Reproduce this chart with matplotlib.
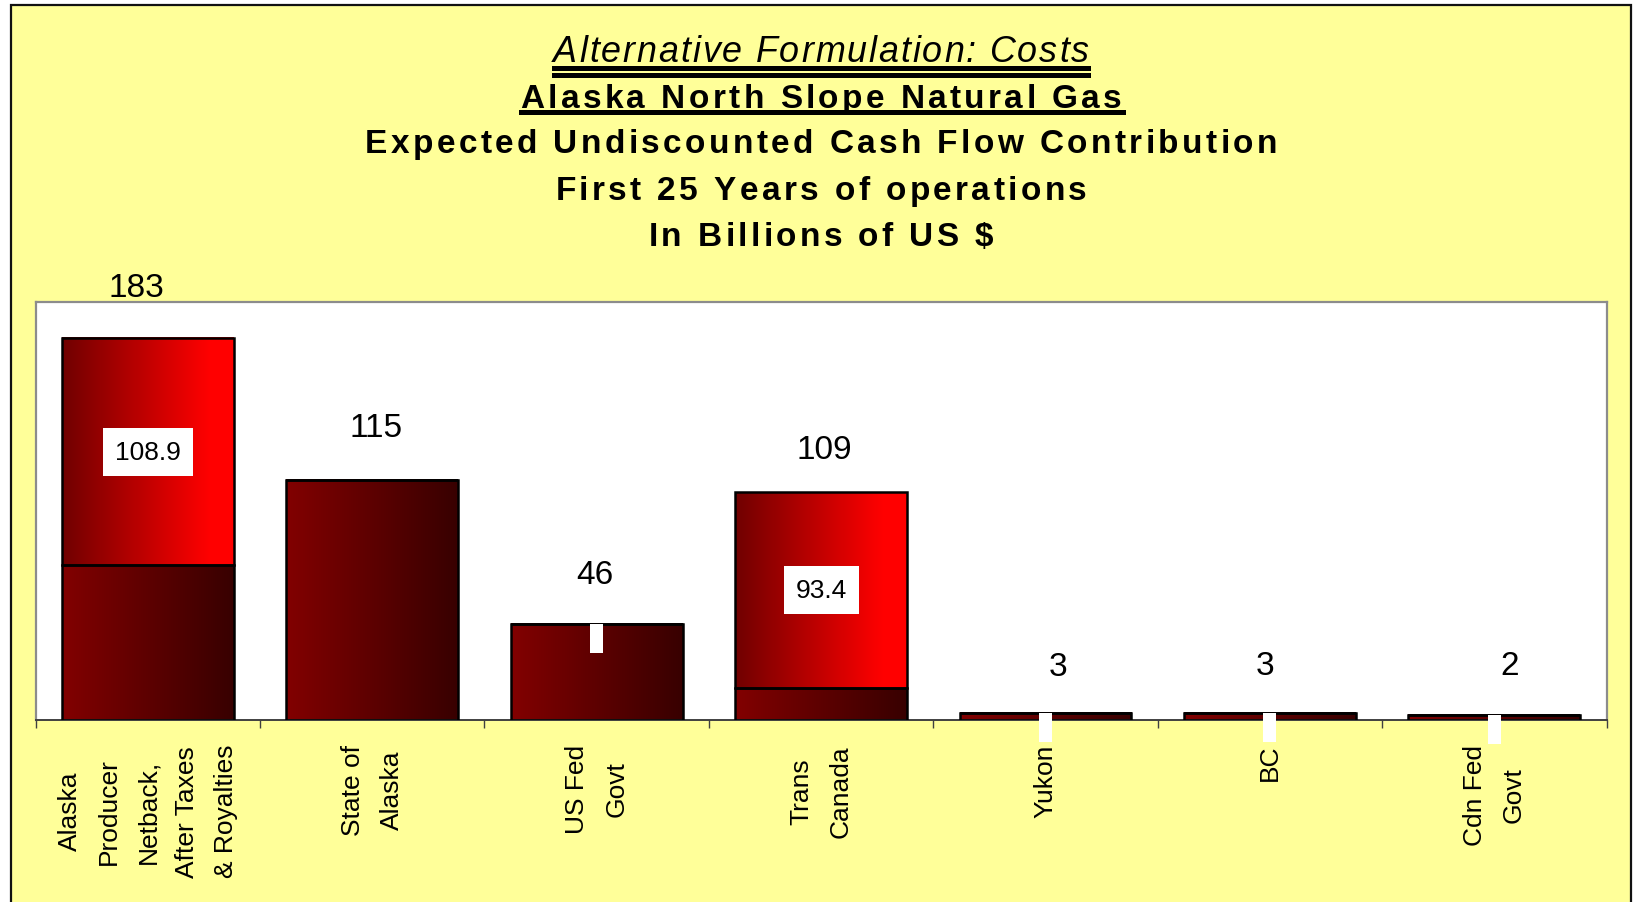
import numpy as np
import matplotlib
matplotlib.use('Agg')
import matplotlib.pyplot as plt
from matplotlib.patches import Rectangle
from matplotlib.colors import to_rgb
from matplotlib.font_manager import FontProperties, findfont
from matplotlib.ft2font import FT2Font

# data
categories = ['Alaska\nProducer\nNetback,\nAfter Taxes\n& Royalties', 'State of\nAlaska',
              'US Fed\nGovt', 'Trans\nCanada', 'Yukon', 'BC', 'Cdn Fed\nGovt']
totals = [183, 115, 46, 109, 3.4, 3.4, 2.4]
upper = [108.9, 0, 0, 93.4, 0, 0, 0]          # red top segment
lower = [t - u for t, u in zip(totals, upper)]  # dark bottom segment
empty_box = [False, False, True, False, True, True, True]  # stray blank label boxes

title_italic = 'Alternative Formulation: Costs'
title_bold = ['Alaska North Slope Natural Gas',
              'Expected Undiscounted Cash Flow Contribution',
              'First 25 Years of operations',
              'In Billions of US $']

# label nudges seen in the original (pixels)
label_dx = [-12, 4, -2, 3, 12, -5, 15]
label_dy = [50, 52, 50, 43, 47, 48, 50]

W, H, DPI = 1634, 903, 100
FONT = 'Liberation Sans'

fig = plt.figure(figsize=(W / DPI, H / DPI), dpi=DPI, facecolor='white')

# yellow chart area with border (cut off at bottom)
fig.add_artist(Rectangle((11 / W, -0.05), (1631 - 11) / W, 1.05 - 6 / H,
                         transform=fig.transFigure, facecolor='#FFFF99',
                         edgecolor='#111111', linewidth=1.6, zorder=0))


def tracked_text(s, xc, y_base, size, tracking, weight='bold', style='normal'):
    # draw text char by char with extra letter spacing, return left/right px
    fp = FontProperties(family=FONT, size=size, weight=weight, style=style)
    font = FT2Font(findfont(fp))
    font.set_size(size, DPI)
    adv = [font.load_char(ord(c)).linearHoriAdvance / 65536 for c in s]
    total = sum(adv) + tracking * (len(s) - 1)
    x = xc - total / 2
    for c, a in zip(s, adv):
        if c != ' ':
            fig.text(x / W, 1 - y_base / H, c, fontproperties=fp,
                     ha='left', va='baseline')
        x += a + tracking
    return xc - total / 2, xc + total / 2


def hbar(x0, x1, y0, y1):
    fig.add_artist(Rectangle((x0 / W, 1 - y1 / H), (x1 - x0) / W, (y1 - y0) / H,
                             transform=fig.transFigure, color='black', lw=0))


xc = 821
l, r = tracked_text(title_italic, xc, 62.3, 25.8, 1.9, weight='normal', style='italic')
hbar(l - 1, r + 2, 67.3, 71.7)
hbar(l - 1, r + 2, 74.3, 79.0)

baselines = [108.3, 153.3, 200.0, 246.0]
for i, (s, yb) in enumerate(zip(title_bold, baselines)):
    l, r = tracked_text(s, xc, yb, 24, 3.4)
    if i == 0:
        hbar(l - 1, r + 4, 111.0, 115.7)

# plot area
ax = fig.add_axes([35.7 / W, 1 - 721.3 / H, (1606.5 - 35.7) / W, (721.3 - 303.3) / H])
ax.set_facecolor('white')
for side in ['top', 'left', 'right']:
    ax.spines[side].set_color('#8C8C8C')
    ax.spines[side].set_linewidth(1.6)
ax.spines['bottom'].set_color('#404040')
ax.spines['bottom'].set_linewidth(1.4)


def gradient(c0, c1, stop=1.0, n=256):
    t = np.clip(np.linspace(0, 1, n) / stop, 0, 1)
    a, b = np.array(to_rgb(c0)), np.array(to_rgb(c1))
    return (a + (b - a) * t[:, None])[None, :, :]


dark = gradient('#820000', '#380000')
red = gradient('#700000', '#FF0000', stop=0.86)

bw = 0.765
x = np.arange(len(categories))
for i in x:
    x0, x1 = i - bw / 2, i + bw / 2
    ax.imshow(dark, extent=(x0, x1, 0, lower[i]), aspect='auto', zorder=2,
              interpolation='bilinear')
    if upper[i] > 0:
        ax.imshow(red, extent=(x0, x1, lower[i], totals[i]), aspect='auto', zorder=2,
                  interpolation='bilinear')

ax.bar(x, lower, bw, fill=False, edgecolor='black', linewidth=1.8, zorder=3)
ax.bar(x, upper, bw, bottom=lower, fill=False, edgecolor='black', linewidth=1.8, zorder=3)

ax.set_xlim(-0.5, len(categories) - 0.5)
ax.set_ylim(0, 200)
ax.set_yticks([])

# ticks between categories, labels at centres
ax.set_xticks(np.arange(-0.5, len(categories)), [''] * (len(categories) + 1))
ax.tick_params(axis='x', which='major', length=5.8, width=1, color='#404040',
               direction='out')
ax.set_xticks(x, categories, minor=True, rotation=90, ha='center', va='top',
              multialignment='center', linespacing=1.8, fontsize=19, family=FONT)
ax.tick_params(axis='x', which='minor', length=0, pad=17)

# px -> data scale for the blank boxes
px_x = (1606.5 - 35.7) / len(categories)
px_y = (721.3 - 303.3) / 200
for i in x:
    ax.annotate(f'{totals[i]:.0f}', xy=(i, totals[i]), xytext=(label_dx[i], label_dy[i]),
                textcoords='offset pixels', ha='center', va='center',
                fontsize=24, family=FONT, zorder=6)
    if upper[i] > 0:
        ax.text(i, lower[i] + upper[i] / 2, f'{upper[i]:.1f}', ha='center', va='center',
                fontsize=19, family=FONT, zorder=6,
                bbox=dict(boxstyle='square,pad=0.45', fc='white', ec='none'))
    if empty_box[i]:
        w, h = 13 / px_x, 29 / px_y
        ax.add_patch(Rectangle((i - w / 2, totals[i] - h), w, h, facecolor='white',
                               edgecolor='none', clip_on=False, zorder=5))

fig.savefig('out.png', dpi=DPI, facecolor=fig.get_facecolor())
